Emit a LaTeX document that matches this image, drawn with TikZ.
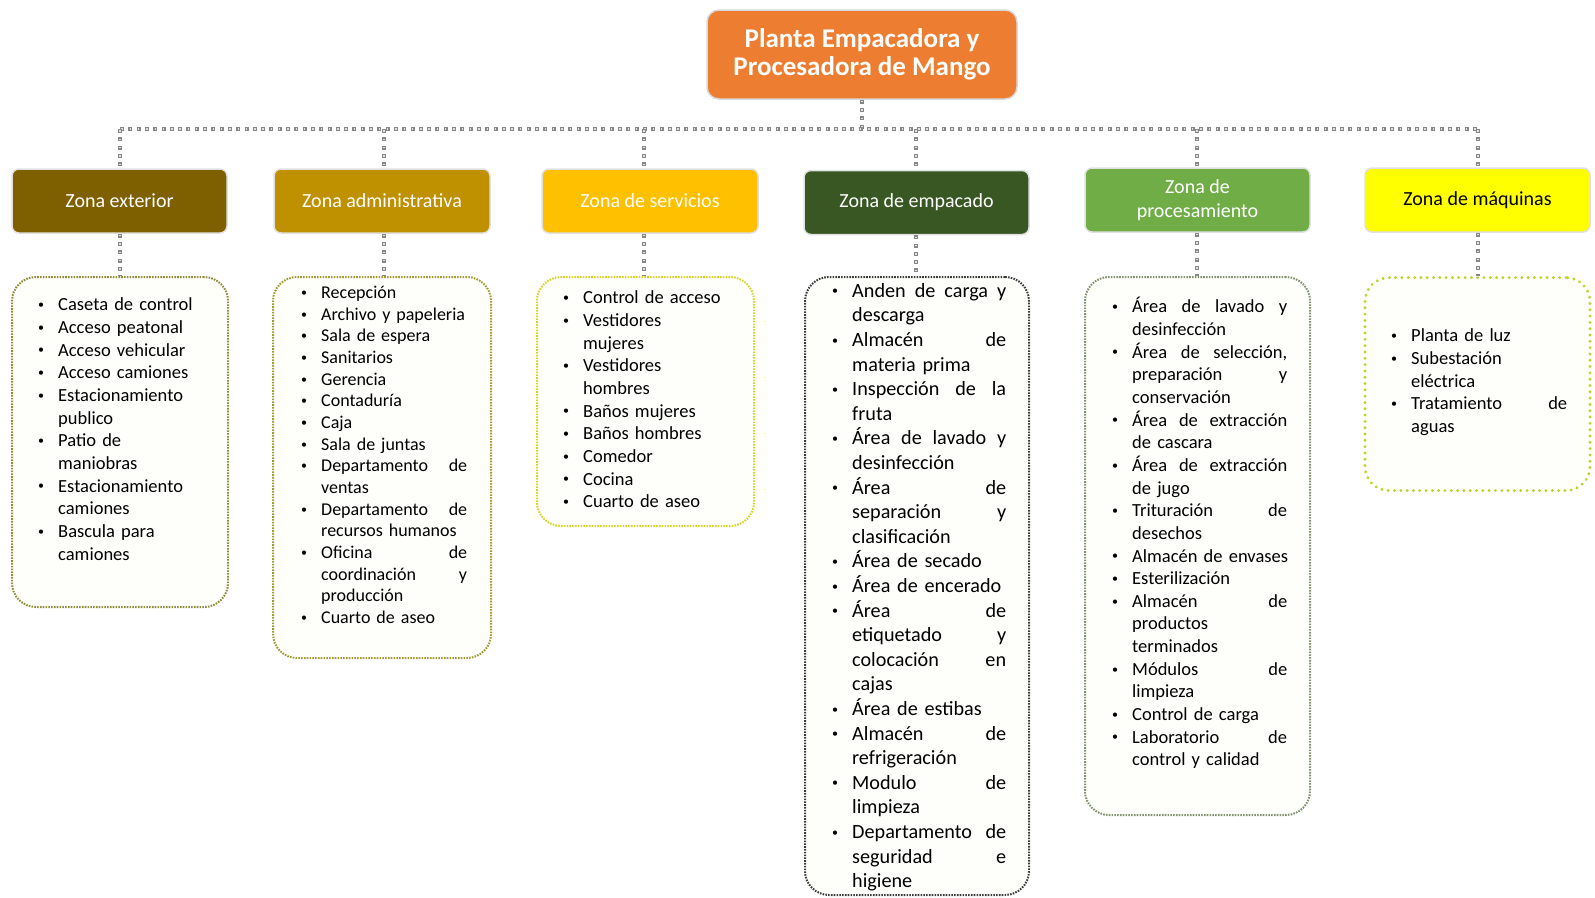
\documentclass[tikz,border=0pt]{standalone}
\usepackage{fontspec}
\setmainfont{Carlito}
\setlength{\parindent}{0pt}
\hyphenpenalty=10000
\exhyphenpenalty=10000
\newcommand\bl{\leavevmode\llap{\makebox[20pt][l]{\raisebox{0.12em}{\fontsize{12}{12}\selectfont\textbullet}}}}
\definecolor{titleor}{RGB}{237,125,49}
\definecolor{zA}{RGB}{127,96,0}
\definecolor{zB}{RGB}{191,144,0}
\definecolor{zC}{RGB}{255,192,0}
\definecolor{zD}{RGB}{56,87,35}
\definecolor{zE}{RGB}{112,173,71}
\definecolor{zF}{RGB}{255,255,0}
\definecolor{cgray}{RGB}{135,135,135}
\definecolor{bA}{RGB}{140,140,60}
\definecolor{bB}{RGB}{160,155,50}
\definecolor{bC}{RGB}{212,212,40}
\definecolor{bD}{RGB}{60,60,60}
\definecolor{bE}{RGB}{130,145,110}
\definecolor{bF}{RGB}{190,210,40}
\definecolor{lfill}{RGB}{254,254,250}
\tikzset{
  conn/.style={draw=cgray, line width=4pt, dash pattern=on 4pt off 4.3pt,
    postaction={draw=white!75!cgray, line width=1.4pt, dash pattern=on 1.4pt off 6.9pt, dash phase=-1.3pt}},
  hdr/.style={rounded corners=7pt, draw=black!12, line width=1.5pt, text=white,
    font=\fontsize{20}{24.5}\selectfont, align=center, inner sep=0pt,
    minimum height=64pt},
  lbox/.style={rounded corners=24pt, fill=lfill, line width=2pt,
    dash pattern=on 1.6pt off 1.2pt, inner sep=0pt, anchor=north},
  ltxt/.style={anchor=north west, inner sep=0pt,
    font=\fontsize{18.5}{22.65}\selectfont},
}
\begin{document}
\begin{tikzpicture}[x=1pt,y=-1pt]
\useasboundingbox (0,0) rectangle (1595,897);
% title
\node[rounded corners=12pt, fill=titleor, draw=black!15, line width=1.5pt,
  text=white, align=center, minimum width=310pt, minimum height=89pt, inner sep=0pt,
  font=\bfseries\fontsize{27}{28.5}\selectfont] (title) at (862,54.5)
  {Planta Empacadora y\\Procesadora de Mango};
% headers
\node[hdr, fill=zA, minimum width=215pt] (z1) at (119.5,201) {Zona exterior};
\node[hdr, fill=zB, minimum width=216pt] (z2) at (382,201) {Zona administrativa};
\node[hdr, fill=zC, minimum width=216pt] (z3) at (650,201) {Zona de servicios};
\node[hdr, fill=zD, minimum width=225pt] (z4) at (916.5,202.5) {Zona de empacado};
\node[hdr, fill=zE, minimum width=225pt] (z5) at (1197.5,200) {Zona de\\procesamiento};
\node[hdr, fill=zF, minimum width=225pt, text=black] (z6) at (1477.5,200) {Zona de máquinas};
% list frames
\node[lbox, draw=bA, minimum width=216pt, minimum height=330pt] (l1) at (120,276) {};
\node[lbox, draw=bB, minimum width=218pt, minimum height=381pt] (l2) at (382,276) {};
\node[lbox, draw=bC, minimum width=217pt, minimum height=249pt] (l3) at (645.5,276) {};
\node[lbox, draw=bD, minimum width=224pt, minimum height=618pt] (l4) at (917,276) {};
\node[lbox, draw=bE, minimum width=225pt, minimum height=538pt] (l5) at (1197.5,276) {};
\node[lbox, draw=bF, minimum width=225pt, minimum height=213pt,
  dash pattern=on 0.01pt off 6.3pt, line cap=round, line width=3.2pt] (l6) at (1477.5,276) {};
% list texts
\node[ltxt, text width=165pt] (t1) at (58,294.8) {\strut
\bl Caseta de control\\
\bl Acceso peatonal\\
\bl Acceso vehicular\\
\bl Acceso camiones\\
\bl Estacionamiento\\
publico\\
\bl Patio de\\
maniobras\\
\bl Estacionamiento\\
camiones\\
\bl Bascula para\\
camiones};
\node[ltxt, text width=146pt, font=\fontsize{18}{21.67}\selectfont] (t2) at (321,283.2) {\strut
\bl Recepción\\
\bl Archivo y papeleria\\
\bl Sala de espera\\
\bl Sanitarios\\
\bl Gerencia\\
\bl Contaduría\\
\bl Caja\\
\bl Sala de juntas\\
\bl Departamento\hfill de\\
ventas\\
\bl Departamento\hfill de\\
recursos humanos\\
\bl Oficina\hfill de\\
coordinación\hfill y\\
producción\\
\bl Cuarto de aseo};
\node[ltxt, text width=165pt] (t3) at (583,287.8) {\strut
\bl Control de acceso\\
\bl Vestidores\\
mujeres\\
\bl Vestidores\\
hombres\\
\bl Baños mujeres\\
\bl Baños hombres\\
\bl Comedor\\
\bl Cocina\\
\bl Cuarto de aseo};
\node[ltxt, text width=154pt, font=\fontsize{20.2}{24.6}\selectfont] (t4) at (852,279.8) {\strut
\bl Anden\hfill de\hfill carga\hfill y\\
descarga\\
\bl Almacén\hfill de\\
materia prima\\
\bl Inspección\hfill de\hfill la\\
fruta\\
\bl Área\hfill de\hfill lavado\hfill y\\
desinfección\\
\bl Área\hfill de\\
separación\hfill y\\
clasificación\\
\bl Área de secado\\
\bl Área de encerado\\
\bl Área\hfill de\\
etiquetado\hfill y\\
colocación\hfill en\\
cajas\\
\bl Área de estibas\\
\bl Almacén\hfill de\\
refrigeración\\
\bl Modulo\hfill de\\
limpieza\\
\bl Departamento\hfill de\\
seguridad\hfill e\\
higiene};
\node[ltxt, text width=155pt] (t5) at (1132,296.8) {\strut
\bl Área\hfill de\hfill lavado\hfill y\\
desinfección\\
\bl Área\hfill de\hfill selección,\\
preparación\hfill y\\
conservación\\
\bl Área\hfill de\hfill extracción\\
de cascara\\
\bl Área\hfill de\hfill extracción\\
de jugo\\
\bl Trituración\hfill de\\
desechos\\
\bl \makebox[150pt][l]{Almacén de envases}\\
\bl Esterilización\\
\bl Almacén\hfill de\\
productos\\
terminados\\
\bl Módulos\hfill de\\
limpieza\\
\bl Control de carga\\
\bl Laboratorio\hfill de\\
control y calidad};
\node[ltxt, text width=156pt] (t6) at (1411,325.8) {\strut
\bl Planta de luz\\
\bl Subestación\\
eléctrica\\
\bl Tratamiento\hfill de\\
aguas};
% connectors
\coordinate (j1) at (120,129);
\coordinate (j2) at (384,129);
\coordinate (j3) at (644,129);
\coordinate (j4) at (916,129);
\coordinate (j5) at (1197,129);
\coordinate (j6) at (1478,129);
\draw[conn] (title.south) -- (title.south |- j1);
\draw[conn] (j1) -- (j6);
\foreach \k in {1,...,6} {
  \draw[conn] (j\k) -- (j\k |- z\k.north);
  \draw[conn] (j\k |- z\k.south) -- (j\k |- l\k.north);
}
\end{tikzpicture}
\end{document}
